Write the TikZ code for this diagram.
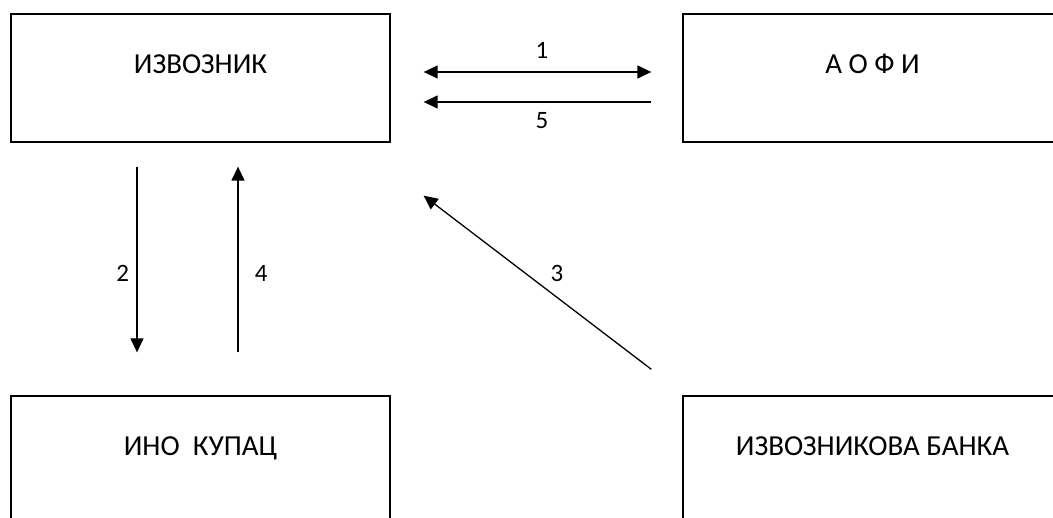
\documentclass[tikz,border=0pt]{standalone}
\usepackage{fontspec}
\setmainfont{Carlito}
\usetikzlibrary{arrows.meta}
\tikzset{
  block/.style={draw, line width=1.3pt, minimum width=379pt, minimum height=128pt,
    inner sep=0pt, text height=18pt, text depth=26pt, font=\fontsize{29}{35}\selectfont},
  flow/.style={line width=1.3pt},
  num/.style={font=\fontsize{25}{30}\selectfont}
}
\begin{document}
\begin{tikzpicture}[x=1pt,y=-1pt,>={Triangle[length=14pt,width=13pt]}]
    \useasboundingbox (0,0) rectangle (1053,518);
    \draw
    (200.5,78) node[block] (izv) {ИЗВОЗНИК}
    (872.5,78) node[block] (aofi) {А О Ф И}
    (200.5,460) node[block] (kup) {ИНО~ КУПАЦ}
    (872.5,460) node[block] (bank) {ИЗВОЗНИКОВА БАНКА};
    \draw
    ([yshift=6pt]izv.east) edge[flow, <->, shorten <=33pt, shorten >=31pt]
      node[num, above=10pt, pos=0.519] {1} ([yshift=6pt]aofi.west)
    ([yshift=-24pt]aofi.west) edge[flow, ->, shorten <=31pt, shorten >=33pt]
      node[num, below=6pt, pos=0.481] {5} ([yshift=-24pt]izv.east)
    ([xshift=-63.5pt]izv.south) edge[flow, ->, shorten <=24pt, shorten >=43pt]
      node[num, left=4pt, pos=0.516] {2} ([xshift=-63.5pt]kup.north)
    ([xshift=37.5pt]kup.north) edge[flow, ->, shorten <=43pt, shorten >=24pt]
      node[num, right=13pt, pos=0.484] {4} ([xshift=37.5pt]izv.south)
    ([shift={(-31pt,26pt)}]bank.north west) edge[flow, ->]
      node[num, above=12pt, pos=0.415] {3} ([shift={(33pt,-53pt)}]izv.south east);
  \end{tikzpicture}
\end{document}
